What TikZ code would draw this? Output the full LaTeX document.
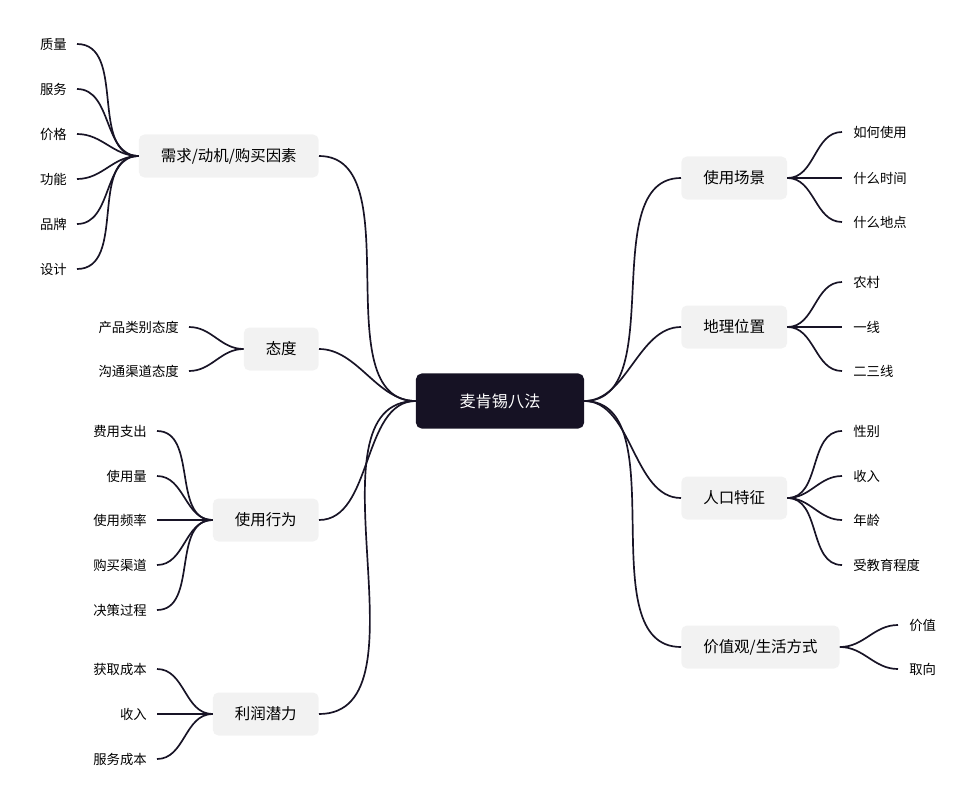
\documentclass[tikz,border=0pt]{standalone}
\usepackage{fontspec}
\setmainfont{Noto Sans CJK SC}
\usetikzlibrary{positioning}
\definecolor{cdark}{RGB}{22,18,36}
\definecolor{cbox}{RGB}{242,242,242}
\definecolor{cline}{RGB}{24,20,38}

\begin{document}
\begin{tikzpicture}[
    x=0.025cm, y=-0.025cm,
    root/.style={fill=cdark, text=white, rounded corners=4pt, minimum width=4.2cm,
                 minimum height=1.375cm, font=\fontsize{11.5}{13}\selectfont},
    branch/.style={fill=cbox, rounded corners=4pt, minimum height=1.075cm,
                   inner xsep=0.55cm, font=\fontsize{11}{13}\selectfont},
    leaf/.style={font=\fontsize{9.5}{11}\selectfont, inner sep=0pt},
    link/.style={line width=1.2pt, cline}
  ]
  \useasboundingbox (0,0) rectangle (976,804);

  \node[root] (root) at (500,401) {麦肯锡八法};

  % left side
  \node[branch, anchor=east] (need) at (319,156) {需求/动机/购买因素};
  \node[branch, anchor=east] (att) at (319,349) {态度};
  \node[branch, anchor=east] (use) at (319,520) {使用行为};
  \node[branch, anchor=east] (profit) at (319,714) {利润潜力};

  % right side
  \node[branch, anchor=west] (scene) at (681,178) {使用场景};
  \node[branch, anchor=west] (geo) at (681,327) {地理位置};
  \node[branch, anchor=west] (pop) at (681,498) {人口特征};
  \node[branch, anchor=west] (value) at (681,647) {价值观/生活方式};

  \foreach \b in {need,att,use,profit}
    \draw[link] (root.west) to[out=180, in=0, looseness=0.9] (\b.east);
  \foreach \b in {scene,geo,pop,value}
    \draw[link] (root.east) to[out=0, in=180, looseness=0.9] (\b.west);

  % leaves, left
  \foreach \t/\y [count=\i] in {质量/44,服务/89,价格/134,功能/179,品牌/224,设计/269} {
    \coordinate (n\i) at (77,\y);
    \node[leaf, anchor=east] at (67,\y) {\t};
    \draw[link] (need.west) to[out=180, in=0] (n\i);
  }
  \foreach \t/\y [count=\i] in {产品类别态度/327,沟通渠道态度/371} {
    \coordinate (a\i) at (189,\y);
    \node[leaf, anchor=east] at (179,\y) {\t};
    \draw[link] (att.west) to[out=180, in=0] (a\i);
  }
  \foreach \t/\y [count=\i] in {费用支出/431,使用量/476,使用频率/520,购买渠道/565,决策过程/610} {
    \coordinate (u\i) at (157,\y);
    \node[leaf, anchor=east] at (147,\y) {\t};
    \draw[link] (use.west) to[out=180, in=0] (u\i);
  }
  \foreach \t/\y [count=\i] in {获取成本/669,收入/714,服务成本/759} {
    \coordinate (p\i) at (157,\y);
    \node[leaf, anchor=east] at (147,\y) {\t};
    \draw[link] (profit.west) to[out=180, in=0] (p\i);
  }

  % leaves, right
  \foreach \t/\y [count=\i] in {如何使用/132,什么时间/178,什么地点/222} {
    \coordinate (s\i) at (842,\y);
    \node[leaf, anchor=west] at (853,\y) {\t};
    \draw[link] (scene.east) to[out=0, in=180] (s\i);
  }
  \foreach \t/\y [count=\i] in {农村/282,一线/327,二三线/371} {
    \coordinate (g\i) at (842,\y);
    \node[leaf, anchor=west] at (853,\y) {\t};
    \draw[link] (geo.east) to[out=0, in=180] (g\i);
  }
  \foreach \t/\y [count=\i] in {性别/431,收入/476,年龄/520,受教育程度/565} {
    \coordinate (c\i) at (842,\y);
    \node[leaf, anchor=west] at (853,\y) {\t};
    \draw[link] (pop.east) to[out=0, in=180] (c\i);
  }
  \foreach \t/\y [count=\i] in {价值/625,取向/669} {
    \coordinate (v\i) at (898,\y);
    \node[leaf, anchor=west] at (909,\y) {\t};
    \draw[link] (value.east) to[out=0, in=180] (v\i);
  }
\end{tikzpicture}
\end{document}
